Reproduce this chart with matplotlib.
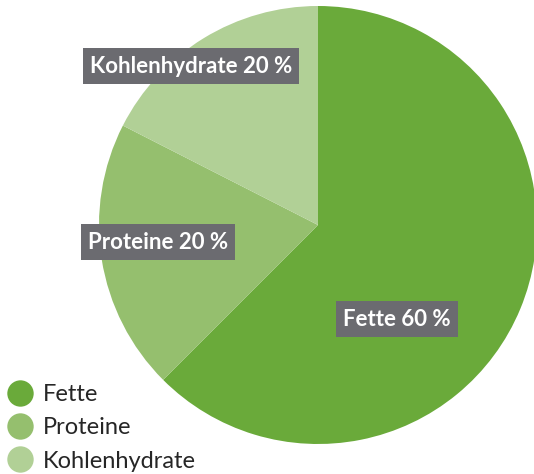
import matplotlib.pyplot as plt
from matplotlib.lines import Line2D

plt.rcParams.update({"font.family": ["Lato", "DejaVu Sans"]})

# Data
categories = ["Fette", "Proteine", "Kohlenhydrate"]
label_pct = [60, 20, 20]          # values printed in the labels
shares = [62.5, 20, 17.5]         # slice sizes as drawn in the picture
colors = ["#6aaa3a", "#95bf6e", "#b1d096"]

# Label box centres in pixel coords (x from left, y from top)
label_pos = [(397, 319), (158, 242), (191, 66)]

W, H = 534, 474
fig = plt.figure(figsize=(W / 100, H / 100), dpi=100)
ax = fig.add_axes([0, 0, 1, 1])

ax.pie(shares, colors=colors, startangle=90, counterclock=False,
       center=(318, H - 225), radius=219,
       wedgeprops=dict(linewidth=0))
ax.set_xlim(0, W)
ax.set_ylim(0, H)
ax.set_aspect("equal")
ax.axis("off")

for cat, val, (x, y) in zip(categories, label_pct, label_pos):
    ax.text(x, H - y, f"{cat} {val} %", ha="center", va="center",
            fontsize=16, fontweight="bold", color="white",
            bbox=dict(boxstyle="square,pad=0.32", fc="#6b6b70", ec="none"))

handles = [Line2D([], [], marker="o", linestyle="none", markersize=19,
                  markerfacecolor=c, markeredgecolor="none") for c in colors]
fig.legend(handles, categories, loc="lower left", bbox_to_anchor=(-0.026, -0.04),
           frameon=False, fontsize=17, labelspacing=0.52, handletextpad=0.42,
           handlelength=1.1, labelcolor="#262626")

fig.savefig("out.png", dpi=100)
